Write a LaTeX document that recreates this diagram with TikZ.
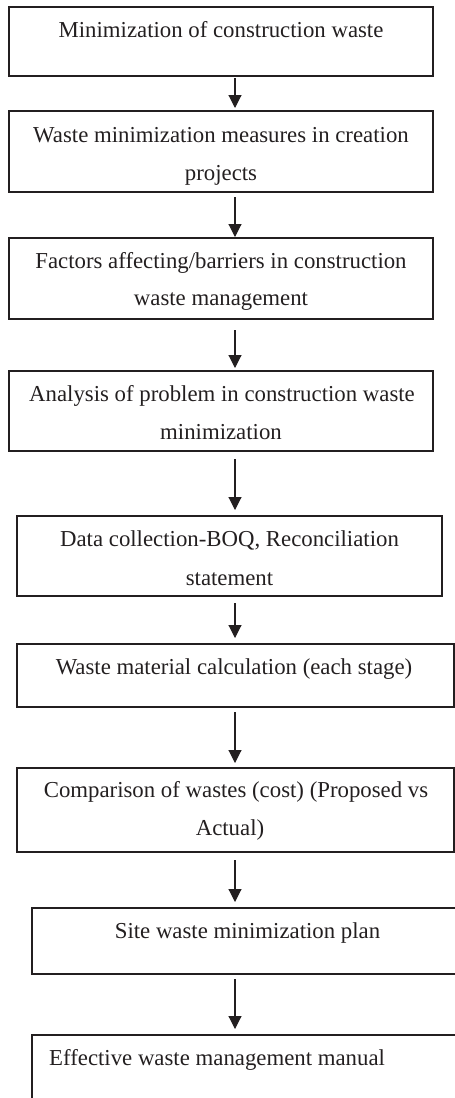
\documentclass[tikz,border=0pt]{standalone}
\usepackage{fontspec}
\setmainfont{Liberation Serif}
\usetikzlibrary{arrows.meta}
\definecolor{ink}{RGB}{35,31,32}
\tikzset{
  box/.style={draw=ink, line width=1.6pt, rectangle, inner sep=0pt, outer sep=0pt, anchor=north west},
  txt/.style={text=ink, inner sep=0pt, anchor=base, font=\fontsize{22.8}{38}\selectfont},
  arr/.style={draw=ink, line width=1.1pt, -{Triangle[length=13pt,width=13pt]}}
}
\begin{document}
\begin{tikzpicture}[x=1pt,y=-1pt]
\useasboundingbox (0,0) rectangle (455,1098);
\clip (0,0) rectangle (455,1098);
\coordinate (ax) at (235,0);
% boxes
\node[box, minimum width=424, minimum height=69] (b1) at (9,7) {};
\node[box, minimum width=424, minimum height=81] (b2) at (9,111) {};
\node[box, minimum width=424, minimum height=81] (b3) at (9,238) {};
\node[box, minimum width=424, minimum height=80] (b4) at (9,371) {};
\node[box, minimum width=425, minimum height=80] (b5) at (17,516) {};
\node[box, minimum width=437, minimum height=63] (b6) at (17,644) {};
\node[box, minimum width=437, minimum height=84] (b7) at (17,768) {};
\node[box, minimum width=438, minimum height=66] (b8) at (32,908) {};
\node[box, minimum width=438, minimum height=80] (b9) at (32,1035) {};
% texts
\node[txt] (t1) at (221,37) {Minimization of construction waste};
\node[txt] (t2a) at (221,142) {Waste minimization measures in creation};
\node[txt] (t2b) at (221,180) {projects};
\node[txt] (t3a) at (221,268) {Factors affecting/barriers in construction};
\node[txt] (t3b) at (221,305) {waste management};
\node[txt] (t4a) at (222,401) {Analysis of problem in construction waste};
\node[txt] (t4b) at (221,439) {minimization};
\node[txt] (t5a) at (229.5,546) {Data collection-BOQ, Reconciliation};
\node[txt] (t5b) at (229.5,585) {statement};
\node[txt] (t6) at (234,674) {Waste material calculation (each stage)};
\node[txt] (t7a) at (236,797) {Comparison of wastes (cost) (Proposed vs};
\node[txt] (t7b) at (230,835) {Actual)};
\node[txt] (t8) at (247.5,938) {Site waste minimization plan};
\node[txt, anchor=base west] (t9) at (49,1065) {Effective waste management manual};
% arrows
\draw[arr, shorten <=2pt, shorten >=3pt] (b1.south -| ax) -- (b2.north -| ax);
\draw[arr, shorten <=5pt, shorten >=1pt] (b2.south -| ax) -- (b3.north -| ax);
\draw[arr, shorten <=11pt, shorten >=3pt] (b3.south -| ax) -- (b4.north -| ax);
\draw[arr, shorten <=8pt, shorten >=6pt] (b4.south -| ax) -- (b5.north -| ax);
\draw[arr, shorten <=7pt, shorten >=6pt] (b5.south -| ax) -- (b6.north -| ax);
\draw[arr, shorten <=5pt, shorten >=5pt] (b6.south -| ax) -- (b7.north -| ax);
\draw[arr, shorten <=8pt, shorten >=6pt] (b7.south -| ax) -- (b8.north -| ax);
\draw[arr, shorten <=5pt, shorten >=6pt] (b8.south -| ax) -- (b9.north -| ax);
\end{tikzpicture}
\end{document}
